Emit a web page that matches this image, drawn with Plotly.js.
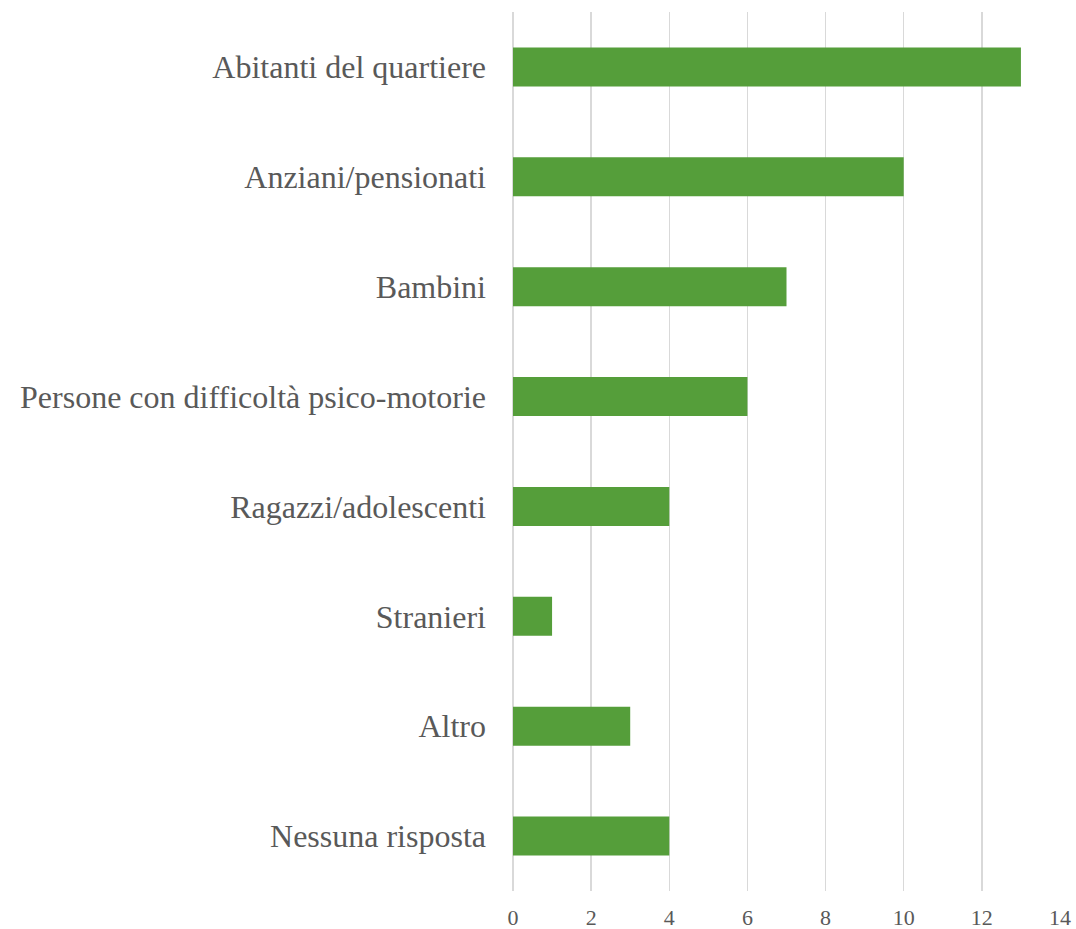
<!DOCTYPE html>
<html>
<head>
<meta charset="utf-8">
<script src="https://cdn.plot.ly/plotly-3.0.1.min.js"></script>
<style>html,body{margin:0;padding:0;background:#fff;}#chart{width:1076px;height:929px;}</style>
</head>
<body>
<div id="chart"></div>
<script>
const categories = ["Abitanti del quartiere","Anziani/pensionati","Bambini","Persone con difficoltà psico-motorie","Ragazzi/adolescenti","Stranieri","Altro","Nessuna risposta"];
const values = [13, 10, 7, 6, 4, 1, 3, 4];
const xTicks = [0, 2, 4, 6, 8, 10, 12, 14];

const trace = {
  type: 'bar',
  orientation: 'h',
  y: categories,
  x: values,
  marker: {color: '#559e3a'},
  hoverinfo: 'x+y'
};

const layout = {
  width: 1076, height: 929,
  margin: {l: 513, r: 16, t: 12, b: 38},
  paper_bgcolor: '#ffffff', plot_bgcolor: '#ffffff',
  bargap: 0.645,
  showlegend: false,
  font: {family: 'Liberation Serif, Times New Roman, serif', color: '#595959'},
  xaxis: {
    range: [0, 14], tickvals: xTicks, ticktext: xTicks.map(String),
    showgrid: true, gridcolor: '#d9d9d9', gridwidth: 1.5,
    zeroline: true, zerolinecolor: '#d9d9d9', zerolinewidth: 1.5,
    showline: false, ticks: '', tickfont: {size: 22, color: '#595959'},
    ticklabelstandoff: 11, fixedrange: true
  },
  yaxis: {
    type: 'category', autorange: 'reversed',
    showgrid: false, zeroline: false, showline: false, ticks: '',
    tickfont: {size: 32, color: '#595959'},
    ticklabelstandoff: 26, fixedrange: true
  }
};

Plotly.newPlot('chart', [trace], layout, {displayModeBar: false, staticPlot: true});
</script>
</body>
</html>
